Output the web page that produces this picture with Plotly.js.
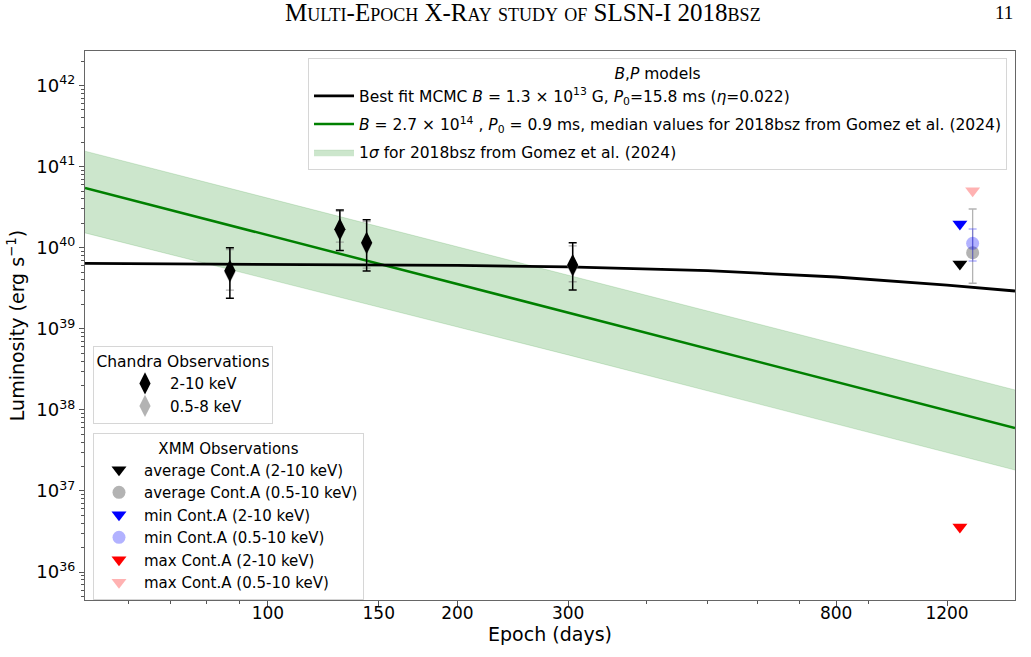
<!DOCTYPE html>
<html>
<head>
<meta charset="utf-8">
<script src="https://cdn.plot.ly/plotly-3.0.1.min.js"></script>
<style>body{margin:0;padding:0;background:#fff;} #chart{width:1031px;height:657px;}</style>
</head>
<body>
<div id="chart"></div>
<script>
// ---------- data ----------
// Best-fit MCMC magnetar curve (days, erg/s)
const fitDays = [51.2, 100, 150, 200, 300, 500, 800, 1000, 1200, 1539];
const fitLum  = [6.4e39, 6.25e39, 6.15e39, 6.05e39, 5.8e39, 5.2e39, 4.35e39, 3.85e39, 3.45e39, 2.92e39];

// Gomez et al. (2024) median model and 1-sigma band
const gomezDays  = [51.2, 100, 300, 1000, 1539];
const gomezLum   = [5.45e40, 1.43e40, 1.57e39, 1.42e38, 5.97e37];
const bandDays   = [51.2, 300, 1539];
const bandUpper  = [1.55e41, 4.6e39, 1.76e38];
const bandLower  = [1.52e40, 4.76e38, 1.81e37];

// Chandra observations
const chDays     = [87.0, 130.1, 143.5, 305];
const ch210      = [5.2e39, 1.69e40, 1.15e40, 6.1e39];
const ch210Up    = [1.0e40, 2.92e40, 2.21e40, 1.15e40];
const ch210Lo    = [2.38e39, 9.2e39, 5.16e39, 3.0e39];
const ch058      = [5.0e39, 1.65e40, 1.12e40, 5.9e39];
const ch058Up    = [9.5e39, 2.8e40, 2.1e40, 1.05e40];
const ch058Lo    = [3.0e39, 1.17e40, 5.6e39, 3.8e39];

// XMM observations
const xmmTriDay  = [1258];
const xmmCircDay = [1318];
const avgHard    = [6.3e39];
const avgSoft    = [8.67e39];
const avgSoftUp  = [3.0e40];
const avgSoftLo  = [3.64e39];
const minHard    = [1.96e40];
const minSoft    = [1.13e40];
const minSoftUp  = [1.7e40];
const minSoftLo  = [6.85e39];
const maxHard    = [3.59e36];
const maxSoft    = [5.05e40];

// ticks
const xTickVals  = [100, 150, 200, 300, 800, 1200];
const xTickText  = ['100', '150', '200', '300', '800', '1200'];
const xMinorVals = [60, 70, 80, 90, 400, 500, 600, 700, 900];
const yTickVals  = [1e36, 1e37, 1e38, 1e39, 1e40, 1e41, 1e42];
const yTickText  = ['10<sup>36</sup>','10<sup>37</sup>','10<sup>38</sup>','10<sup>39</sup>','10<sup>40</sup>','10<sup>41</sup>','10<sup>42</sup>'];
const yMinorVals = [];
for (let e = 35; e <= 42; e++) for (let m = 2; m <= 9; m++) yMinorVals.push(m * Math.pow(10, e));

// ---------- helpers ----------
const diff = (a, b) => a.map((v, i) => v - b[i]);

const FONT = 'DejaVu Sans, sans-serif';
const green = '#008000';

const traces = [
  {x: bandDays, y: bandLower, mode: 'lines', line: {color: 'rgba(0,128,0,0.15)', width: 1},
   showlegend: false, hoverinfo: 'skip', legend: 'legend'},
  {x: bandDays, y: bandUpper, mode: 'lines', fill: 'tonexty', fillcolor: 'rgba(0,128,0,0.2)',
   line: {color: 'rgba(0,128,0,0.15)', width: 1},
   name: '1<i>σ</i> for 2018bsz from Gomez et al. (2024)', legend: 'legend', legendrank: 3, legendgroup: 'c'},
  {x: gomezDays, y: gomezLum, mode: 'lines', line: {color: green, width: 2.5},
   name: '<i>B</i> = 2.7 × 10<sup>14</sup> , <i>P</i><sub>0</sub> = 0.9 ms, median values for 2018bsz from Gomez et al. (2024)',
   legend: 'legend', legendrank: 2, legendgroup: 'b'},
  {x: fitDays, y: fitLum, mode: 'lines', line: {color: '#000', width: 2.8},
   name: 'Best fit MCMC <i>B</i> = 1.3 × 10<sup>13</sup> G, <i>P</i><sub>0</sub>=15.8 ms (<i>η</i>=0.022)',
   legend: 'legend', legendrank: 1, legendgroup: 'a'},

  {x: chDays, y: ch058, mode: 'markers', type: 'scatter',
   marker: {symbol: 'diamond-tall', size: 16, color: 'rgba(128,128,128,0.6)'},
   error_y: {type: 'data', symmetric: false, array: diff(ch058Up, ch058), arrayminus: diff(ch058, ch058Lo),
             color: 'rgba(128,128,128,0.6)', thickness: 1.3, width: 4},
   name: '0.5-8 keV', legend: 'legend2', legendrank: 2},
  {x: chDays, y: ch210, mode: 'markers', type: 'scatter',
   marker: {symbol: 'diamond-tall', size: 16, color: '#000'},
   error_y: {type: 'data', symmetric: false, array: diff(ch210Up, ch210), arrayminus: diff(ch210, ch210Lo),
             color: '#000', thickness: 1.5, width: 4},
   name: '2-10 keV', legend: 'legend2', legendrank: 1},

  {x: xmmTriDay, y: avgHard, mode: 'markers', marker: {symbol: 'triangle-down', size: 13, color: '#000'},
   name: 'average Cont.A (2-10 keV)', legend: 'legend3', legendrank: 1},
  {x: xmmCircDay, y: avgSoft, mode: 'markers', marker: {symbol: 'circle', size: 13, color: 'rgba(128,128,128,0.6)'},
   error_y: {type: 'data', symmetric: false, array: diff(avgSoftUp, avgSoft), arrayminus: diff(avgSoft, avgSoftLo),
             color: 'rgba(128,128,128,0.6)', thickness: 1.3, width: 4},
   name: 'average Cont.A (0.5-10 keV)', legend: 'legend3', legendrank: 2},
  {x: xmmTriDay, y: minHard, mode: 'markers', marker: {symbol: 'triangle-down', size: 13, color: '#0000ff'},
   name: 'min Cont.A (2-10 keV)', legend: 'legend3', legendrank: 3},
  {x: xmmCircDay, y: minSoft, mode: 'markers', marker: {symbol: 'circle', size: 13, color: 'rgba(0,0,255,0.3)'},
   error_y: {type: 'data', symmetric: false, array: diff(minSoftUp, minSoft), arrayminus: diff(minSoft, minSoftLo),
             color: 'rgba(0,0,255,0.3)', thickness: 1.3, width: 4},
   name: 'min Cont.A (0.5-10 keV)', legend: 'legend3', legendrank: 4},
  {x: xmmTriDay, y: maxHard, mode: 'markers', marker: {symbol: 'triangle-down', size: 13, color: '#ff0000'},
   name: 'max Cont.A (2-10 keV)', legend: 'legend3', legendrank: 5},
  {x: xmmCircDay, y: maxSoft, mode: 'markers', marker: {symbol: 'triangle-down', size: 13, color: 'rgba(255,0,0,0.3)'},
   name: 'max Cont.A (0.5-10 keV)', legend: 'legend3', legendrank: 6}
];

const legBase = {
  bgcolor: 'rgba(255,255,255,0.8)', bordercolor: '#d6d6d6', borderwidth: 1,
  xanchor: 'left', yanchor: 'top', itemwidth: 40, itemclick: false
};
const lf = (s) => ({family: FONT, size: s, color: '#000'});

const layout = {
  width: 1031, height: 657,
  margin: {l: 85, r: 16, t: 51, b: 57},
  paper_bgcolor: '#fff', plot_bgcolor: '#fff',
  font: {family: FONT, color: '#000'},
  xaxis: {
    type: 'log', range: [Math.log10(51.2), Math.log10(1539)],
    tickvals: xTickVals, ticktext: xTickText, ticks: 'outside', ticklen: 5, tickcolor: '#555',
    tickfont: {size: 17, family: FONT}, ticklabelstandoff: -8,
    minor: {tickvals: xMinorVals, ticks: 'outside', ticklen: 3, tickcolor: '#555', showgrid: false},
    showgrid: false, zeroline: false, showline: true, mirror: true, linecolor: '#666', linewidth: 1.2,
    title: {text: 'Epoch (days)', font: {size: 19, family: FONT}, standoff: 1}
  },
  yaxis: {
    type: 'log', range: [35.655, 42.4255],
    tickvals: yTickVals, ticktext: yTickText, ticks: 'outside', ticklen: 5, tickcolor: '#555',
    tickfont: {size: 18, family: FONT},
    minor: {tickvals: yMinorVals, ticks: 'outside', ticklen: 3, tickcolor: '#555', showgrid: false},
    showgrid: false, zeroline: false, showline: true, mirror: true, linecolor: '#666', linewidth: 1.2,
    title: {text: 'Luminosity (erg s<sup>−1</sup>)', font: {size: 19, family: FONT}, standoff: 6}
  },
  showlegend: true,
  legend: Object.assign({}, legBase, {
    x: 0.2398, y: 0.987, traceorder: 'grouped', tracegroupgap: 5, font: lf(15.5),
    title: {text: '<i>B</i>,<i>P</i> models', side: 'top center', font: lf(15.5)}
  }),
  legend2: Object.assign({}, legBase, {
    x: 0.0086, y: 0.4627, font: lf(15), indentation: 26,
    title: {text: 'Chandra Observations', side: 'top center', font: lf(15.5)}
  }),
  legend3: Object.assign({}, legBase, {
    x: 0.0086, y: 0.304, font: lf(15),
    title: {text: 'XMM Observations', side: 'top center', font: lf(15)}
  }),
  annotations: [
    {text: 'Multi-Epoch X-Ray study of SLSN-I 2018bsz', xref: 'paper', yref: 'paper',
     x: 0.2129, y: 1.071, xanchor: 'left', yanchor: 'middle', showarrow: false,
     font: {family: 'Liberation Serif, DejaVu Serif, serif', size: 25, variant: 'small-caps', color: '#000'}},
    {text: '11', xref: 'paper', yref: 'paper', x: 1.0, y: 1.071, xanchor: 'right', yanchor: 'middle',
     showarrow: false, font: {family: 'Liberation Serif, DejaVu Serif, serif', size: 19, color: '#000'}}
  ]
};

Plotly.newPlot('chart', traces, layout, {displayModeBar: false, staticPlot: true});
</script>
</body>
</html>
